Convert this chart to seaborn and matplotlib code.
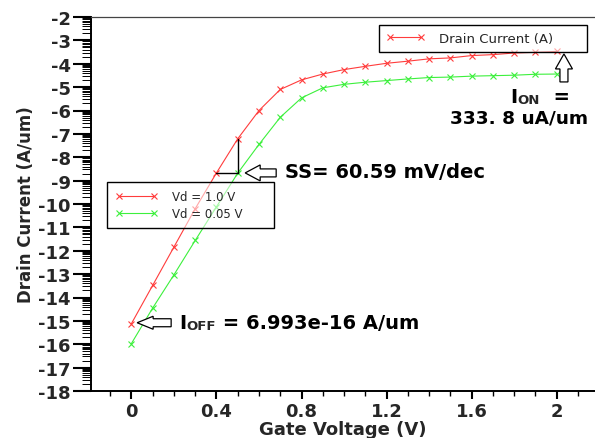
import numpy as np
import pandas as pd
import matplotlib
matplotlib.use("Agg")
import matplotlib.pyplot as plt
import matplotlib.ticker as mticker
import matplotlib.transforms as mtransforms
from matplotlib.lines import Line2D
from matplotlib.patches import Polygon
import seaborn as sns

# gate voltage sweep (V) and log10 drain current (A/um)
gate_voltage = [0.0, 0.1, 0.2, 0.3, 0.4, 0.5, 0.6, 0.7, 0.8, 0.9, 1.0,
                1.1, 1.2, 1.3, 1.4, 1.5, 1.6, 1.7, 1.8, 1.9, 2.0]
log_id_vd_1v = [-15.12, -13.48, -11.84, -10.20, -8.67, -7.21, -6.00, -5.10,
                -4.69, -4.44, -4.25, -4.11, -3.98, -3.89, -3.79, -3.75,
                -3.65, -3.61, -3.54, -3.51, -3.47]
log_id_vd_005v = [-15.97, -14.45, -13.03, -11.56, -10.12, -8.68, -7.45, -6.29,
                  -5.46, -5.03, -4.88, -4.79, -4.72, -4.65, -4.59, -4.57,
                  -4.53, -4.51, -4.49, -4.45, -4.44]

series_labels = ["Vd = 1.0 V", "Vd = 0.05 V"]
series_colors = ["#ff3c3c", "#3cf03c"]
x_ticks = [0, 0.4, 0.8, 1.2, 1.6, 2]
y_ticks = list(range(-18, -1))


def setup_style():
    sns.set_style("white")
    plt.rcParams["font.family"] = ["DejaVu Sans"]
    plt.rcParams["axes.unicode_minus"] = False


def block_arrow(ax, x, y, angle, length=31, head_len=15, head_w=16, tail_w=8):
    """Outlined block arrow with its tip at data point (x, y); sizes in pixels."""
    pts = [(0, 0), (head_len, head_w / 2), (head_len, tail_w / 2),
           (length, tail_w / 2), (length, -tail_w / 2), (head_len, -tail_w / 2),
           (head_len, -head_w / 2)]
    tr = (mtransforms.Affine2D().rotate_deg(angle).scale(ax.figure.dpi / 100)
          + mtransforms.ScaledTranslation(x, y, ax.transData))
    ax.add_patch(Polygon(pts, closed=True, fc="white", ec="black", lw=0.9,
                         transform=tr, zorder=5))


setup_style()
fig = plt.figure(figsize=(5.95, 4.39), dpi=100)
ax = fig.add_axes([91 / 595, 1 - 392 / 439, 1 - 91 / 595, (392 - 18) / 439])

df = pd.DataFrame({"vg": gate_voltage, "a": log_id_vd_1v, "b": log_id_vd_005v})
for col, color in zip(["a", "b"], series_colors):
    sns.lineplot(data=df, x="vg", y=col, ax=ax, color=color, lw=0.8,
                 marker="x", markersize=4.5, mec=color, mew=0.8)

# SS construction lines
ax.plot([gate_voltage[4], gate_voltage[5]], [log_id_vd_1v[4], log_id_vd_1v[4]],
        color="black", lw=1.0)
ax.plot([gate_voltage[5], gate_voltage[5]], [log_id_vd_1v[4], log_id_vd_1v[5]],
        color="black", lw=1.0)

ax.set_xlim(-0.19, 2.18)
ax.set_ylim(-18, -2)

# ticks
ax.xaxis.set_major_locator(mticker.FixedLocator(x_ticks))
ax.xaxis.set_major_formatter(mticker.FormatStrFormatter("%g"))
ax.xaxis.set_minor_locator(mticker.MultipleLocator(0.1))
ax.yaxis.set_major_locator(mticker.FixedLocator(y_ticks))
minor_y = [d + np.log10(k) for d in range(-18, -2) for k in range(2, 10)]
ax.yaxis.set_minor_locator(mticker.FixedLocator(minor_y))
ax.tick_params(axis="x", which="major", direction="out", length=6, width=1.5,
               labelsize=13, pad=2, color="black")
ax.tick_params(axis="x", which="minor", direction="out", length=3.6, width=1.0,
               color="black")
ax.tick_params(axis="y", which="major", direction="out", length=13, width=1.5,
               labelsize=13, pad=1.5, color="black")
ax.tick_params(axis="y", which="minor", direction="out", length=6.5, width=0.7,
               color="black")
ax.xaxis.set_ticks_position("bottom")
ax.yaxis.set_ticks_position("left")
for lab in ax.get_xticklabels() + ax.get_yticklabels():
    lab.set_fontweight("bold")

for side in ["left", "bottom"]:
    ax.spines[side].set_color("black")
    ax.spines[side].set_linewidth(1.4)
ax.spines["top"].set_color("#444444")
ax.spines["top"].set_linewidth(0.9)
ax.spines["right"].set_visible(False)

ax.set_xlabel("Gate Voltage (V)", fontsize=13, fontweight="bold", labelpad=0)
ax.set_ylabel("Drain Current (A/um)", fontsize=12, fontweight="bold", labelpad=2)

# legends
handles = [Line2D([], [], color=c, lw=0.8, marker="x", markersize=4.5, mew=0.8)
           for c in series_colors]
leg1 = ax.legend(handles, series_labels, loc="upper left",
                 bbox_to_anchor=(107 / 595, 1 - 183 / 439, 167 / 595, 0),
                 bbox_transform=fig.transFigure, mode="expand", numpoints=2,
                 fontsize=8.5, handlelength=3.6, handletextpad=1.2,
                 borderpad=0.7, labelspacing=0.3, borderaxespad=0,
                 fancybox=False, frameon=True)
fr = leg1.get_frame()
fr.set_alpha(None)
fr.set_facecolor((1, 1, 1, 0.55))
fr.set_edgecolor("black")
fr.set_linewidth(1.0)
ax.add_artist(leg1)

leg2 = ax.legend([Line2D([], [], color=series_colors[0], lw=0.8, marker="x",
                         markersize=4.5, mew=0.8)],
                 ["Drain Current (A)"], loc="upper left",
                 bbox_to_anchor=(379 / 595, 1 - 25.7 / 439, 208 / 595, 0),
                 bbox_transform=fig.transFigure, mode="expand", numpoints=2,
                 fontsize=9.5, handlelength=2.9, handletextpad=1.1,
                 borderpad=0.55, borderaxespad=0, fancybox=False, frameon=True)
fr = leg2.get_frame()
fr.set_alpha(None)
fr.set_facecolor((1, 1, 1, 0.55))
fr.set_edgecolor("black")
fr.set_linewidth(1.0)

# block arrows pointing at SS, ION and IOFF
block_arrow(ax, 0.535, -8.67, 0)
block_arrow(ax, 2.034, -3.58, -90, length=28, head_len=15, head_w=17, tail_w=8)
block_arrow(ax, 0.027, -15.08, 0, length=34, head_len=16, head_w=13, tail_w=8)

txt_kw = dict(fontsize=14, fontweight="bold", color="black")
ax.text(0.722, -8.61, "SS= 60.59 mV/dec", va="center", ha="left", **txt_kw)

t = ax.text(1.781, -5.42, "I", va="center", ha="left", **txt_kw)
t = ax.annotate("ON", xy=(1, 0), xycoords=t, va="bottom", ha="left",
                fontsize=9.5, fontweight="bold")
ax.annotate("  =", xy=(1, 0), xycoords=t, va="bottom", ha="left", **txt_kw)
ax.text(1.50, -6.29, "333. 8 uA/um", va="center", ha="left",
        **dict(txt_kw, fontsize=13.3))

t = ax.text(0.227, -15.08, "I", va="center", ha="left", **txt_kw)
t = ax.annotate("OFF", xy=(1, 0), xycoords=t, va="bottom", ha="left",
                fontsize=9.5, fontweight="bold")
ax.annotate(" = 6.993e-16 A/um", xy=(1, 0), xycoords=t, va="bottom",
            ha="left", **txt_kw)

fig.savefig("out.png", dpi=100)
